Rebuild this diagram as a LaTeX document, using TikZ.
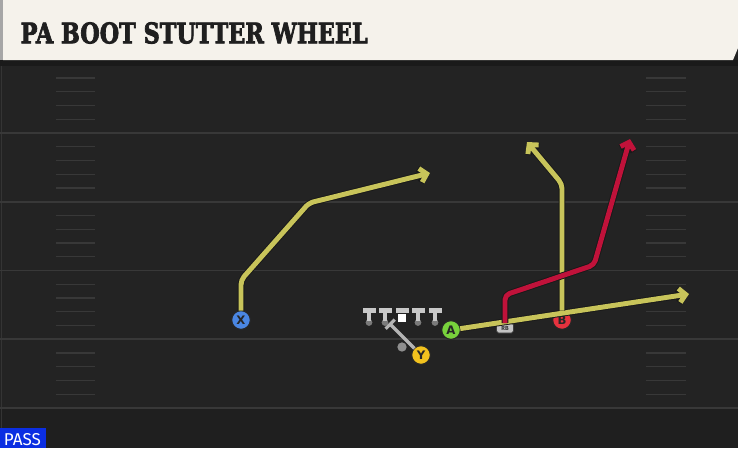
\documentclass[tikz,border=0pt]{standalone}
\usepackage{fontspec}
\usetikzlibrary{arrows.meta}
\newfontfamily\titlefont{DejaVu Serif}[BoldFeatures={FakeBold=3}]
\newfontfamily\markfont{DejaVu Sans}
\newfontfamily\tagfont{Fira Sans}

\begin{document}
\begin{tikzpicture}[x=0.03cm, y=-0.03cm,
    %Option for marks and routes
    inner sep=0pt, outer sep=0pt,%
    player/.style={circle, draw=black!85, line width=0.9pt, fill=#1, minimum size=0.56cm, font=\markfont\bfseries\normalsize, text=black!85},
    route/.style={color=#1, line width=4.2pt, line join=round, rounded corners=4pt, -{Straight Barb[length=5.5pt,width=12pt]}, preaction={draw=black!90, line width=5.8pt}},
    blockline/.style={color=blockgray, line width=3pt, -{Bar[width=11pt,line width=2.8pt]}},
    rbtag/.style={rounded corners=1.5pt, draw=black!80, line width=0.5pt, fill=tagwhite, minimum width=0.5cm, minimum height=0.3cm, font=\tagfont\bfseries\fontsize{5}{5}\selectfont, text=black!80},
    yardline/.style={line width=1.4pt, color=fieldline},
    hashmark/.style={line width=1.1pt, color=fieldline},
]
    % Colors
    \definecolor{fieldbg}{HTML}{232323}
    \definecolor{fieldlow}{HTML}{1F1F1F}
    \definecolor{fieldline}{HTML}{383838}
    \definecolor{headband}{HTML}{1A1A1A}
    \definecolor{cream}{HTML}{F5F2EB}
    \definecolor{routeyellow}{HTML}{C8C45A}
    \definecolor{routered}{HTML}{C0123A}
    \definecolor{xblue}{HTML}{4A86E2}
    \definecolor{yyellow}{HTML}{F2C21E}
    \definecolor{agreen}{HTML}{78D23C}
    \definecolor{bred}{HTML}{E6323E}
    \definecolor{blockgray}{HTML}{B4B4B4}
    \definecolor{linegray}{HTML}{C8C8C8}
    \definecolor{dotgray}{HTML}{7A7A7A}
    \definecolor{tagwhite}{HTML}{C4C4C4}
    \definecolor{passblue}{HTML}{0B2EE2}

    \useasboundingbox (0,0) rectangle (738,448);

    % Field
    \fill[fieldbg] (0,0) rectangle (738,448);
    \fill[fieldlow] (0,408) rectangle (738,448);
    \fill[headband] (0,60) rectangle (738,66);
    \draw[fieldline!80!fieldbg, line width=0.8pt] (1,66) -- (1,448);
    \foreach \y in {133,201.75,270.5,339.25,408}
        \draw[yardline] (0,\y) -- (738,\y);
    \foreach \s in {64.25,133,201.75,270.5,339.25}
        \foreach \k in {1,...,4} {
            \draw[hashmark] (56,\s+\k*13.75) -- (95,\s+\k*13.75);
            \draw[hashmark] (646,\s+\k*13.75) -- (686,\s+\k*13.75);
        }

    % Header
    \fill[cream] (3,0) -- (738,0) -- (738,48) -- (733,60) -- (3,60) -- cycle;
    \fill[black!35] (0,0) rectangle (3,60);
    \node[anchor=base west, text=black!88] (title) at (20.7,43.3)
        {\resizebox{10.41cm}{0.63cm}{\titlefont\bfseries PA BOOT STUTTER WHEEL}};

    % Line
    \foreach \lx [count=\i] in {369,385,418,435} {
        \fill[dotgray] (\lx,322.5) circle (3.4);
        \fill[linegray] (\lx-6.5,308) rectangle (\lx+6.5,313);
        \fill[linegray] (\lx-2,312) rectangle (\lx+2,321);
        \coordinate (lineman\i) at (\lx,322);
    }
    \fill[linegray] (395.5,308) rectangle (408.5,313);
    \fill[white] (398,313.5) rectangle (406,322);
    \node[circle, fill=dotgray!85, minimum size=0.28cm] (QB) at (402,347) {};

    % Players
    \node[player=xblue] (X) at (241,320) {X};
    \node[player=yyellow] (Y) at (421,355) {Y};
    \node[player=agreen] (A) at (451,330) {A};
    \node[player=bred] (B) at (562,320) {B};
    \node[rbtag] (RB) at (505,328) {RB};

    % Route points
    \coordinate (xstem) at (241,280);
    \coordinate (xcut) at (309,203);
    \coordinate (xend) at (430,173);
    \coordinate (aend) at (689,294);
    \coordinate (bstem) at (562,184);
    \coordinate (bend) at (527,142);
    \coordinate (rbstem) at (505,295);
    \coordinate (rbcut) at (594,265);
    \coordinate (rbend) at (630,139);
    \coordinate (yblock) at (389,323);

    % Routes
    \draw[blockline] (Y) -- (yblock);
    \draw[route=routeyellow] (X) -- (xstem) -- (xcut) -- (xend);
    \draw[route=routeyellow] (A) -- (aend);
    \draw[route=routeyellow] (B) -- (bstem) -- (bend);
    \draw[route=routered] (RB) -- (rbstem) -- (rbcut) -- (rbend);

    % Play type
    \fill[passblue] (0,428) rectangle (46,448);
    \node[anchor=base west, text=white] (pass) at (4,445)
        {\resizebox{1.11cm}{0.36cm}{\tagfont PASS}};
\end{tikzpicture}
\end{document}
